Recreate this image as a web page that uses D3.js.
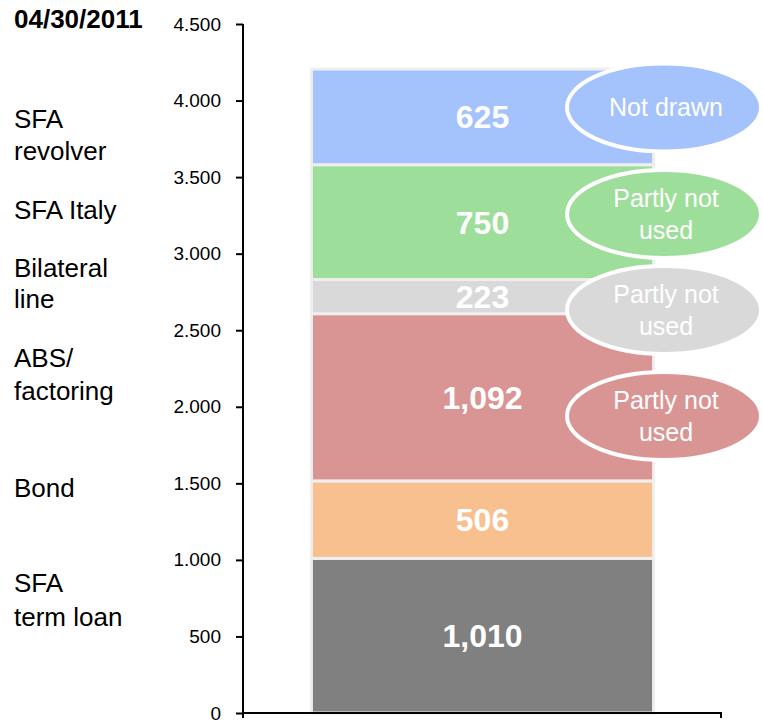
<!DOCTYPE html>
<html>
<head>
<meta charset="utf-8">
<script src="https://cdn.jsdelivr.net/npm/d3@7"></script>
<style>
body { margin: 0; background: #fff; }
text { font-family: Arial, "Liberation Sans", sans-serif; }
</style>
</head>
<body>
<script>
// chart data
var categories = ['SFA term loan', 'Bond', 'ABS/factoring', 'Bilateral line', 'SFA Italy', 'SFA revolver'];
var values = [1010, 506, 1092, 223, 750, 625];
var colors = ['#808080', '#f8c08f', '#d99594', '#d9d9d9', '#9ede9b', '#a4c2fc'];
var labelLines = [['SFA', 'term loan'], ['Bond'], ['ABS/', 'factoring'], ['Bilateral', 'line'], ['SFA Italy'], ['SFA', 'revolver']];
var notes = [null, null, ['Partly not', 'used'], ['Partly not', 'used'], ['Partly not', 'used'], ['Not drawn']];
var noteCenters = [null, null, 1940, 2632, 3259, 3955];
var yTicks = [0, 500, 1000, 1500, 2000, 2500, 3000, 3500, 4000, 4500];
var dateLabel = '04/30/2011';

var width = 763, height = 723;

var svg = d3.select('body').append('svg')
    .attr('width', width)
    .attr('height', height);

var y = d3.scaleLinear().domain([0, 4500]).range([713, 24]);
var x = d3.scaleBand().domain(['2011']).range([243, 722]).paddingInner(0).paddingOuter(0.2);

var fmtAxis = d3.formatLocale({decimal: ',', thousands: '.', grouping: [3], currency: ['', '']}).format(',');
var fmtVal = d3.format(',');

// stack
var stackData = [];
var acc = 0;
values.forEach(function(v, i) {
    stackData.push({i: i, y0: acc, y1: acc + v, v: v});
    acc += v;
});

var bx = x('2011');
var bw = x.bandwidth();

svg.selectAll('.seg')
    .data(stackData)
    .enter().append('rect')
        .attr('class', 'seg')
        .attr('x', bx)
        .attr('width', bw)
        .attr('y', function(d) { return y(d.y1); })
        .attr('height', function(d) { return y(d.y0) - y(d.y1); })
        .attr('fill', function(d) { return colors[d.i]; })
        .attr('stroke', '#efefef')
        .attr('stroke-width', 3);

svg.selectAll('.val')
    .data(stackData)
    .enter().append('text')
        .attr('class', 'val')
        .attr('x', bx + bw / 2)
        .attr('y', function(d) { return y((d.y0 + d.y1) / 2); })
        .attr('dy', '0.36em')
        .attr('text-anchor', 'middle')
        .attr('fill', '#fff')
        .attr('font-weight', 'bold')
        .attr('font-size', 32)
        .text(function(d) { return fmtVal(d.v); });

// callout ellipses
var noteData = stackData.filter(function(d) { return notes[d.i]; });
var cx = 664;

var g = svg.selectAll('.note')
    .data(noteData)
    .enter().append('g')
        .attr('class', 'note')
        .attr('transform', function(d) { return 'translate(' + cx + ',' + y(noteCenters[d.i]) + ')'; });

g.append('ellipse')
    .attr('rx', 97)
    .attr('ry', 44)
    .attr('fill', function(d) { return colors[d.i]; })
    .attr('stroke', '#fff')
    .attr('stroke-width', 4);

g.each(function(d) {
    var lines = notes[d.i];
    var t = d3.select(this).append('text')
        .attr('text-anchor', 'middle')
        .attr('fill', '#fff')
        .attr('font-size', 25);
    lines.forEach(function(l, k) {
        t.append('tspan')
            .attr('x', 2)
            .attr('y', (k - (lines.length - 1) / 2) * 32)
            .attr('dy', '0.36em')
            .text(l);
    });
});

// axes
var yAxis = d3.axisLeft(y).tickValues(yTicks).tickSize(7).tickPadding(15).tickFormat(fmtAxis);
var ay = svg.append('g').attr('transform', 'translate(243,0)').call(yAxis);
ay.select('.domain').attr('stroke', '#000').attr('stroke-width', 2).attr('d', 'M0,24V713');
ay.selectAll('.tick line').attr('stroke', '#000').attr('stroke-width', 2);
ay.selectAll('.tick text').attr('font-size', 19).attr('fill', '#000')
    .attr('font-family', 'Arial, "Liberation Sans", sans-serif');

svg.append('line')
    .attr('x1', 243).attr('x2', 722)
    .attr('y1', 713).attr('y2', 713)
    .attr('stroke', '#000').attr('stroke-width', 2);
[243, 721].forEach(function(px) {
    svg.append('line')
        .attr('x1', px).attr('x2', px)
        .attr('y1', 713).attr('y2', 718)
        .attr('stroke', '#000').attr('stroke-width', 2);
});

// left labels
svg.append('text')
    .attr('x', 14).attr('y', 28)
    .attr('font-size', 26).attr('font-weight', 'bold')
    .text(dateLabel);

var labelY = [[583, 617], [488], [358, 391], [268, 299], [210], [119, 151]];
labelLines.forEach(function(lines, i) {
    var t = svg.append('text').attr('font-size', 26).attr('fill', '#000');
    lines.forEach(function(l, k) {
        t.append('tspan')
            .attr('x', 14)
            .attr('y', labelY[i][k])
            .attr('dy', '0.36em')
            .text(l);
    });
});
</script>
</body>
</html>
